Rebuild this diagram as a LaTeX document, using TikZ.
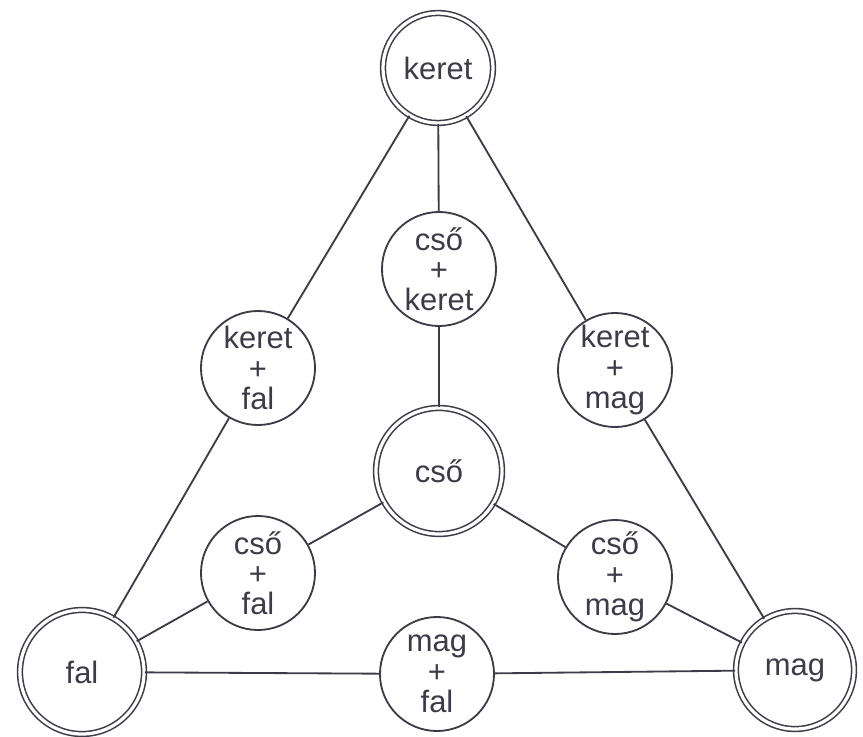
\documentclass[tikz,border=0pt]{standalone}
\usepackage{fontspec}
\setmainfont{Liberation Sans}
\usetikzlibrary{positioning}
\definecolor{ink}{RGB}{60,60,72}
\tikzset{
  pure/.style={circle, draw=ink, double, double distance=2.3pt, line width=1.1pt, text=ink, font=\fontsize{22}{21.5}\selectfont, align=center, inner sep=0pt},
  mix/.style={circle, draw=ink, line width=1.3pt, minimum size=2.85cm, text=ink, font=\fontsize{22}{21.5}\selectfont, align=center, inner sep=0pt},
  link/.style={draw=ink, line width=1.3pt},
}

\begin{document}
\begin{tikzpicture}[x=0.025cm, y=-0.025cm]
  \path[use as bounding box, fill=white] (0,0) rectangle (863,737);
  % Pure corners
  \node[pure, minimum size=2.75cm] (keret) at (438,68) {keret};
  \node[pure, minimum size=3.1cm] (fal) at (82,672) {fal};
  \node[pure, minimum size=2.95cm] (mag) at (795,670) {mag};
  % Centre
  \node[pure, minimum size=3.15cm] (cso) at (439,471) {cső};
  % Mixtures
  \node[mix] (csokeret) at (439,269) {cső\\+\\keret};
  \node[mix] (keretfal) at (258,368) {keret\\+\\fal};
  \node[mix] (keretmag) at (615,370) {keret\\+\\mag};
  \node[mix] (csofal) at (258,573) {cső\\+\\fal};
  \node[mix] (csomag) at (615,577) {cső\\+\\mag};
  \node[mix] (magfal) at (437,674) {mag\\+\\fal};

  % Edges of the triangle
  \draw[link] (keret) -- (keretfal);
  \draw[link] (keretfal) -- (fal);
  \draw[link] (keret) -- (keretmag);
  \draw[link] (keretmag) -- (mag);
  \draw[link] (fal) -- (magfal);
  \draw[link] (magfal) -- (mag);
  % Spokes to the centre
  \draw[link] (keret) -- (csokeret);
  \draw[link] (csokeret) -- (cso);
  \draw[link] (cso) -- (csofal);
  \draw[link] (csofal) -- (fal);
  \draw[link] (cso) -- (csomag);
  \draw[link] (csomag) -- (mag);
\end{tikzpicture}
\end{document}
